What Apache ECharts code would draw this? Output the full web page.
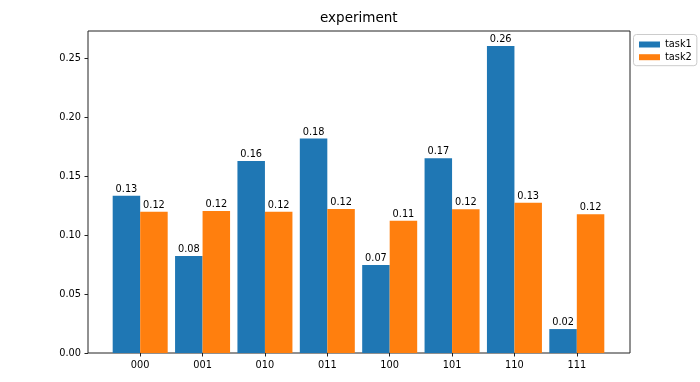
<!DOCTYPE html>
<html>
<head>
<meta charset="utf-8">
<script src="https://cdn.jsdelivr.net/npm/echarts@6/dist/echarts.min.js"></script>
<style>html,body{margin:0;padding:0;background:#fff;}#c{width:700px;height:382px;}</style>
</head>
<body>
<div id="c"></div>
<script>
const categories = ['000', '001', '010', '011', '100', '101', '110', '111'];
const task1 = [0.1333, 0.0823, 0.1627, 0.1819, 0.0747, 0.1652, 0.2602, 0.0203];
const task2 = [0.1198, 0.1204, 0.1198, 0.1221, 0.1122, 0.1218, 0.1274, 0.1176];
const yTicks = [0, 0.05, 0.10, 0.15, 0.20, 0.25];
const yMax = 0.273;

const font = 'DejaVu Sans';
const fs = 9.8;
const chart = echarts.init(document.getElementById('c'), null, {renderer: 'canvas'});
const labelCfg = {
  show: true, position: 'top', distance: 1.5,
  color: '#000', fontFamily: font, fontSize: fs,
  formatter: p => p.value.toFixed(2)
};
chart.setOption({
  animation: false,
  backgroundColor: '#fff',
  title: {
    text: 'experiment', left: 320, top: 11, padding: 0,
    textStyle: {fontFamily: font, fontSize: 13.5, fontWeight: 'normal', color: '#000'}
  },
  legend: {
    orient: 'vertical', left: 633.5, top: 34.5,
    padding: [4.5, 5, 3, 5.5], itemGap: 1.7,
    itemWidth: 21, itemHeight: 6, icon: 'rect',
    borderColor: '#cccccc', borderWidth: 1, borderRadius: 3,
    backgroundColor: '#fff',
    textStyle: {fontFamily: font, fontSize: fs, color: '#000', lineHeight: 11},
    data: ['task1', 'task2']
  },
  grid: [
    {left: 109, right: 92, top: 31, bottom: 29, show: false},
    {left: 88, right: 70, top: 31, bottom: 29, show: true, borderColor: '#222', borderWidth: 1, backgroundColor: 'transparent'}
  ],
  xAxis: [
    {
      gridIndex: 0, type: 'category', data: categories,
      axisLine: {show: false},
      axisTick: {show: true, alignWithLabel: true, length: 3.5, lineStyle: {color: '#222'}},
      axisLabel: {fontFamily: font, fontSize: fs, color: '#000', margin: 7}
    },
    {gridIndex: 1, type: 'value', show: false, min: 0, max: 1}
  ],
  yAxis: [
    {gridIndex: 0, type: 'value', min: 0, max: yMax, show: false},
    {
      gridIndex: 1, type: 'value', min: 0, max: yMax,
      axisLine: {show: false},
      splitLine: {show: false},
      axisTick: {show: true, length: 3.5, lineStyle: {color: '#222'}, customValues: yTicks},
      axisLabel: {fontFamily: font, fontSize: fs, color: '#000', margin: 7,
        customValues: yTicks, formatter: v => v.toFixed(2)}
    }
  ],
  series: [
    {name: 'task1', type: 'bar', xAxisIndex: 0, yAxisIndex: 0, data: task1,
     barWidth: 27.5, barGap: '0%', itemStyle: {color: '#1f77b4'}, label: labelCfg},
    {name: 'task2', type: 'bar', xAxisIndex: 0, yAxisIndex: 0, data: task2,
     barWidth: 27.5, barGap: '0%', itemStyle: {color: '#ff7f0e'}, label: labelCfg}
  ]
});
</script>
</body>
</html>
